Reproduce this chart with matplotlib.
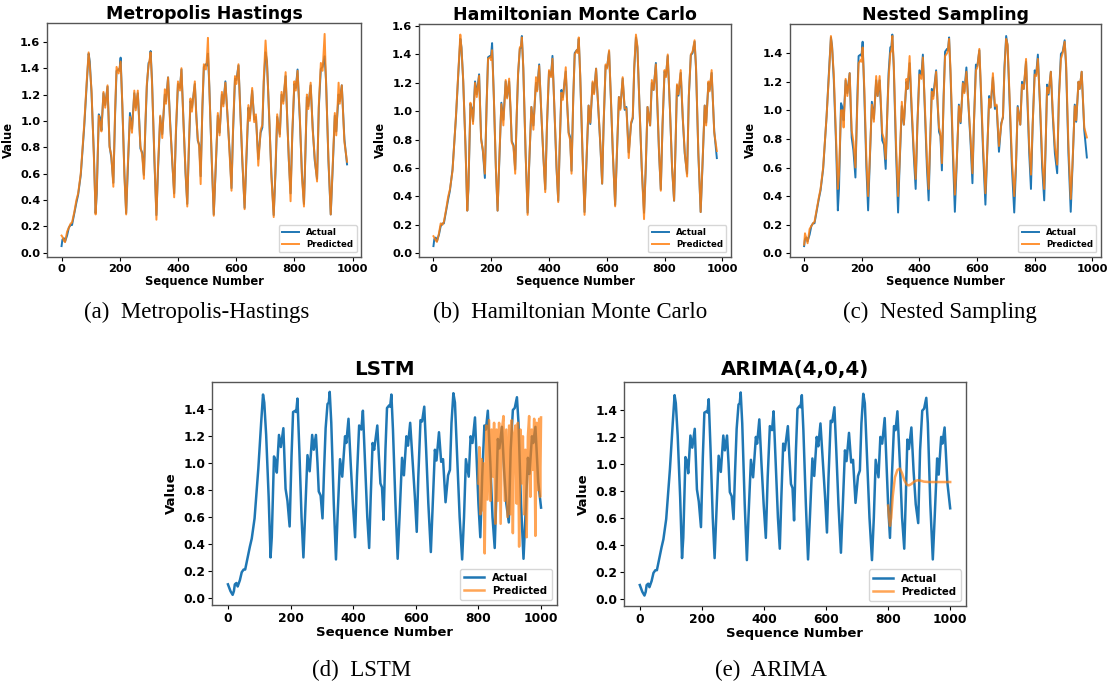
import matplotlib
matplotlib.use("Agg")
import matplotlib.pyplot as plt
import numpy as np

plt.rcParams['font.family'] = ['DejaVu Sans']
plt.rcParams['font.weight'] = 'bold'

# ---------------- data ----------------
act_x = [0, 8, 15,
         19, 22, 27, 31, 38, 44, 50, 55, 63, 70,
         76, 85, 97, 106, 112, 116, 122, 130, 136, 140,
         147, 152, 156, 163, 169, 177, 184, 190, 197, 203,
         208, 215, 218, 222, 228, 235, 241, 246, 254, 261,
         269, 274, 281, 286, 290, 296, 302, 307, 312, 318,
         322, 325, 330, 338, 345, 350, 358, 365, 374, 378,
         385, 392, 399, 406, 412, 419, 426, 431, 438, 445,
         451, 456, 462, 467, 477, 482, 487, 492, 497, 503,
         508, 515, 518, 522, 527, 535, 542, 548, 556, 562,
         570, 575, 582, 590, 597, 603, 608, 615, 620, 627,
         633, 640, 648, 654, 661, 666, 674, 681, 687, 695,
         703, 709, 714, 720, 725, 732, 740, 748, 754, 760,
         769, 775, 781, 789, 795, 800, 806, 812, 819, 824,
         830, 838, 845, 852, 857, 862, 867, 875, 882, 889,
         897, 903, 910, 916, 923, 928, 936, 944, 950, 958,
         963, 971, 975, 982, 991, 1000]
act_y = [0.10, 0.05, 0.022,
         0.05, 0.10, 0.11, 0.084, 0.13, 0.19, 0.21, 0.21, 0.30, 0.38,
         0.44, 0.59, 0.96, 1.30, 1.51, 1.45, 1.21, 0.75, 0.30, 0.45,
         1.05, 1.02, 0.93, 1.21, 1.12, 1.26, 0.81, 0.72, 0.53, 1.05,
         1.38, 1.39, 1.38, 1.48, 1.10, 0.60, 0.30, 0.60, 1.06, 0.94,
         1.21, 1.10, 1.21, 1.00, 0.79, 0.76, 0.59, 0.95, 1.26, 1.44,
         1.45, 1.53, 1.30, 0.70, 0.285, 0.60, 1.03, 0.90, 1.20, 1.15,
         1.33, 1.00, 0.70, 0.45, 0.90, 1.28, 1.25, 1.39, 1.00, 0.60,
         0.37, 0.75, 1.15, 1.10, 1.28, 1.05, 0.85, 0.82, 0.58, 1.10,
         1.41, 1.43, 1.42, 1.51, 1.25, 0.70, 0.29, 0.60, 1.04, 0.91,
         1.20, 1.13, 1.30, 1.00, 0.75, 0.49, 0.90, 1.32, 1.31, 1.42,
         1.10, 0.70, 0.34, 0.70, 1.10, 1.02, 1.23, 1.01, 1.03, 0.71,
         0.91, 0.95, 1.30, 1.52, 1.45, 1.05, 0.60, 0.285, 0.60, 1.03,
         0.90, 1.20, 1.15, 1.34, 1.00, 0.70, 0.45, 0.90, 1.28, 1.25,
         1.39, 1.00, 0.60, 0.37, 0.75, 1.18, 1.11, 1.27, 0.95, 0.70,
         0.56, 1.10, 1.395, 1.41, 1.49, 1.30, 0.70, 0.29, 0.60, 1.04,
         0.92, 1.20, 1.15, 1.27, 0.86, 0.67]

# the top-row panels start 19 steps later in the sequence
top_offset = 19
top_start = 3

mh_pred = [0.13, 0.12, 0.09, 0.08, 0.16, 0.19, 0.22, 0.23, 0.31, 0.40,
           0.45, 0.60, 0.98, 1.32, 1.52, 1.42, 1.23, 0.73, 0.29, 0.48,
           1.04, 0.98, 0.92, 1.22, 1.10, 1.27, 0.80, 0.74, 0.50, 1.08,
           1.41, 1.36, 1.40, 1.45, 1.12, 0.58, 0.29, 0.63, 1.03, 0.91,
           1.23, 1.08, 1.23, 0.98, 0.81, 0.74, 0.56, 0.98, 1.28, 1.42,
           1.47, 1.52, 1.28, 0.72, 0.25, 0.63, 1.04, 0.87, 1.24, 1.13,
           1.33, 0.98, 0.72, 0.42, 0.93, 1.30, 1.23, 1.40, 0.98, 0.62,
           0.35, 0.78, 1.17, 1.07, 1.30, 1.03, 0.87, 0.80, 0.52, 1.12,
           1.43, 1.39, 1.46, 1.63, 1.23, 0.72, 0.28, 0.62, 1.06, 0.89,
           1.22, 1.11, 1.29, 1.02, 0.73, 0.47, 0.92, 1.34, 1.28, 1.43,
           1.08, 0.72, 0.33, 0.73, 1.12, 1.00, 1.25, 0.99, 1.05, 0.66,
           0.93, 0.97, 1.33, 1.61, 1.43, 1.07, 0.58, 0.27, 0.63, 1.05,
           0.88, 1.22, 1.13, 1.37, 0.98, 0.72, 0.39, 0.92, 1.30, 1.23,
           1.38, 1.02, 0.58, 0.35, 0.77, 1.20, 1.09, 1.29, 0.93, 0.72,
           0.54, 1.12, 1.44, 1.38, 1.66, 1.28, 0.72, 0.29, 0.62, 1.06,
           0.89, 1.29, 1.13, 1.27, 0.84, 0.69]

hmc_pred = [0.12, 0.11, 0.09, 0.08, 0.14, 0.21, 0.20, 0.22, 0.31, 0.40,
            0.45, 0.58, 0.97, 1.31, 1.54, 1.44, 1.22, 0.74, 0.30, 0.47,
            1.06, 1.00, 0.91, 1.20, 1.10, 1.25, 0.80, 0.73, 0.56, 1.04,
            1.37, 1.38, 1.36, 1.43, 1.11, 0.61, 0.30, 0.61, 1.05, 0.90,
            1.22, 1.09, 1.23, 1.02, 0.78, 0.75, 0.56, 0.96, 1.27, 1.45,
            1.46, 1.52, 1.31, 0.71, 0.27, 0.61, 1.03, 0.87, 1.24, 1.14,
            1.32, 1.01, 0.70, 0.43, 0.91, 1.29, 1.24, 1.37, 1.01, 0.61,
            0.36, 0.76, 1.13, 1.08, 1.31, 1.05, 0.84, 0.80, 0.56, 1.10,
            1.40, 1.43, 1.41, 1.52, 1.26, 0.71, 0.27, 0.62, 1.04, 0.92,
            1.21, 1.12, 1.30, 1.01, 0.76, 0.49, 0.91, 1.33, 1.30, 1.43,
            1.11, 0.71, 0.33, 0.71, 1.10, 1.01, 1.24, 1.02, 1.02, 0.67,
            0.92, 0.96, 1.31, 1.54, 1.46, 1.05, 0.61, 0.24, 0.62, 1.03,
            0.90, 1.22, 1.15, 1.33, 1.01, 0.71, 0.44, 0.91, 1.29, 1.24,
            1.40, 1.00, 0.61, 0.37, 0.76, 1.19, 1.12, 1.29, 0.96, 0.71,
            0.54, 1.11, 1.40, 1.42, 1.50, 1.31, 0.71, 0.29, 0.61, 1.04,
            0.90, 1.21, 1.14, 1.29, 0.85, 0.72]

ns_pred = [0.06, 0.14, 0.10, 0.07, 0.17, 0.19, 0.21, 0.22, 0.31, 0.39,
           0.45, 0.60, 0.96, 1.28, 1.52, 1.44, 1.25, 0.80, 0.45, 0.55,
           1.00, 1.00, 0.88, 1.22, 1.10, 1.26, 0.86, 0.78, 0.60, 1.00,
           1.33, 1.35, 1.34, 1.44, 1.15, 0.66, 0.40, 0.62, 1.04, 0.92,
           1.24, 1.10, 1.24, 1.02, 0.84, 0.80, 0.66, 0.95, 1.22, 1.40,
           1.42, 1.52, 1.33, 0.76, 0.40, 0.62, 1.06, 0.90, 1.22, 1.15,
           1.38, 1.03, 0.74, 0.52, 0.90, 1.25, 1.22, 1.37, 1.03, 0.66,
           0.45, 0.76, 1.13, 1.08, 1.27, 1.06, 0.88, 0.84, 0.63, 1.08,
           1.38, 1.40, 1.42, 1.50, 1.28, 0.76, 0.41, 0.62, 1.03, 0.92,
           1.19, 1.12, 1.27, 1.02, 0.79, 0.56, 0.90, 1.28, 1.30, 1.43,
           1.13, 0.75, 0.42, 0.70, 1.08, 1.02, 1.26, 1.03, 1.04, 0.75,
           0.90, 0.96, 1.28, 1.50, 1.46, 1.09, 0.66, 0.40, 0.62, 1.02,
           0.90, 1.18, 1.15, 1.36, 1.03, 0.75, 0.55, 0.90, 1.25, 1.24,
           1.36, 1.03, 0.66, 0.45, 0.76, 1.16, 1.12, 1.27, 0.98, 0.75,
           0.62, 1.08, 1.36, 1.40, 1.48, 1.33, 0.76, 0.38, 0.62, 1.03,
           0.93, 1.20, 1.15, 1.27, 0.88, 0.81]

lstm_x = [800, 803, 806, 810, 813, 816, 820, 825, 829, 834, 838, 842, 846,
          850, 854, 858, 862, 866, 871, 875, 880, 884, 889, 893, 898, 902,
          906, 910, 914, 918, 922, 926, 930, 934, 938, 942, 946, 950, 954,
          958, 962, 966, 970, 974, 978, 982, 986, 990, 994, 997, 1000]
lstm_y = [0.85, 1.12, 0.62, 1.03, 0.65, 1.00, 0.33, 1.28, 0.73, 1.32, 0.72,
          1.25, 0.90, 1.30, 0.55, 1.25, 0.72, 1.30, 0.55, 1.25, 1.35, 0.72,
          1.25, 0.60, 1.28, 0.62, 1.32, 0.48, 1.22, 1.28, 0.70, 1.30, 0.38,
          1.25, 0.85, 1.20, 0.62, 1.10, 0.45, 1.20, 1.35, 0.75, 1.25, 0.95,
          1.33, 0.46, 1.30, 0.80, 1.33, 0.75, 1.34]

arima_x = [800, 803, 806, 810, 815, 822, 830, 838, 845, 852, 860, 867, 875,
           885, 895, 905, 915, 930, 950, 975, 1000]
arima_y = [0.69, 0.60, 0.54, 0.60, 0.76, 0.90, 0.955, 0.965, 0.93, 0.88, 0.845,
           0.84, 0.85, 0.87, 0.878, 0.875, 0.868, 0.865, 0.865, 0.865, 0.865]

top_titles = ["Metropolis Hastings", "Hamiltonian Monte Carlo", "Nested Sampling"]
top_captions = ["(a)  Metropolis-Hastings", "(b)  Hamiltonian Monte Carlo", "(c)  Nested Sampling"]
bottom_titles = ["LSTM", "ARIMA(4,0,4)"]
bottom_captions = ["(d)  LSTM", "(e)  ARIMA"]
legend_labels = ["Actual", "Predicted"]

# ---------------- layout ----------------
W, H = 1112, 687
fig = plt.figure(figsize=(W / 100, H / 100), dpi=100)


def rect(l, t, r, b):
    return [l / W, 1 - b / H, (r - l) / W, (b - t) / H]


BLUE = '#1f77b4'
ORANGE = '#ff7f0e'
SPINE = '#555555'


def style(ax, tick_fs, label_fs, title, title_fs, pad):
    ax.set_title(title, fontsize=title_fs, fontweight='bold', pad=pad)
    ax.set_xlabel("Sequence Number", fontsize=label_fs, fontweight='bold', labelpad=1)
    ax.set_ylabel("Value", fontsize=label_fs, fontweight='bold', labelpad=4)
    ax.tick_params(labelsize=tick_fs, length=3, width=0.8, colors='black', pad=2)
    for lab in ax.get_xticklabels() + ax.get_yticklabels():
        lab.set_fontweight('bold')
    for s in ax.spines.values():
        s.set_color(SPINE)
        s.set_linewidth(1.0)
    ax.set_xticks([0, 200, 400, 600, 800, 1000])


top_rects = [rect(47.3, 23.3, 361, 256.7),
             rect(419.3, 24, 730.7, 256.7),
             rect(790, 24, 1100.7, 256.7)]
top_preds = [mh_pred, hmc_pred, ns_pred]
top_caption_x = [197, 570, 940]

tx = [x - top_offset for x in act_x[top_start:]]
ty = act_y[top_start:]

for i in range(3):
    ax = fig.add_axes(top_rects[i])
    ax.plot(tx, ty, color=BLUE, lw=1.4, label=legend_labels[0])
    ax.plot(tx, top_preds[i], color=ORANGE, lw=1.4, alpha=0.85, label=legend_labels[1])
    style(ax, 8.2, 8.3, top_titles[i], 12.5, 3)
    ax.set_xticks([0, 200, 400, 600, 800, 1000])
    ax.set_xlim(-49, 1029)
    if i < 2:
        ax.set_yticks(np.arange(0, 1.61, 0.2))
    else:
        ax.set_yticks(np.arange(0, 1.41, 0.2))
    ax.yaxis.set_major_formatter(matplotlib.ticker.FormatStrFormatter('%.1f'))
    ax.legend(loc='lower right', prop={'weight': 'bold', 'size': 6.2},
              borderaxespad=0.5, handlelength=2.0, labelspacing=0.3,
              fancybox=True, framealpha=0.8)
    fig.text(top_caption_x[i] / W, 1 - 312 / H, top_captions[i],
             family='Liberation Serif', fontsize=16.5, fontweight='normal',
             ha='center', va='center')

bot_rects = [rect(212.3, 381.7, 556.7, 605), rect(624.3, 382.3, 965.7, 605.7)]
bot_pred_x = [lstm_x, arima_x]
bot_pred_y = [lstm_y, arima_y]
bot_caption_x = [362, 771]

for i in range(2):
    ax = fig.add_axes(bot_rects[i])
    ax.plot(act_x, act_y, color=BLUE, lw=1.8, label=legend_labels[0])
    ax.plot(bot_pred_x[i], bot_pred_y[i], color=ORANGE, lw=1.8, alpha=0.7,
            label=legend_labels[1])
    style(ax, 8.8, 9.5, bottom_titles[i], 14.3, 5)
    ax.set_xlim(-50, 1050)
    ax.set_yticks(np.arange(0, 1.41, 0.2))
    ax.yaxis.set_major_formatter(matplotlib.ticker.FormatStrFormatter('%.1f'))
    ax.legend(loc='lower right', prop={'weight': 'bold', 'size': 7.3},
              borderaxespad=0.5, handlelength=2.0, labelspacing=0.3,
              fancybox=True, framealpha=0.8)
    fig.text(bot_caption_x[i] / W, 1 - 670 / H, bottom_captions[i],
             family='Liberation Serif', fontsize=16.5, fontweight='normal',
             ha='center', va='center')

fig.savefig("out.png", dpi=100)
